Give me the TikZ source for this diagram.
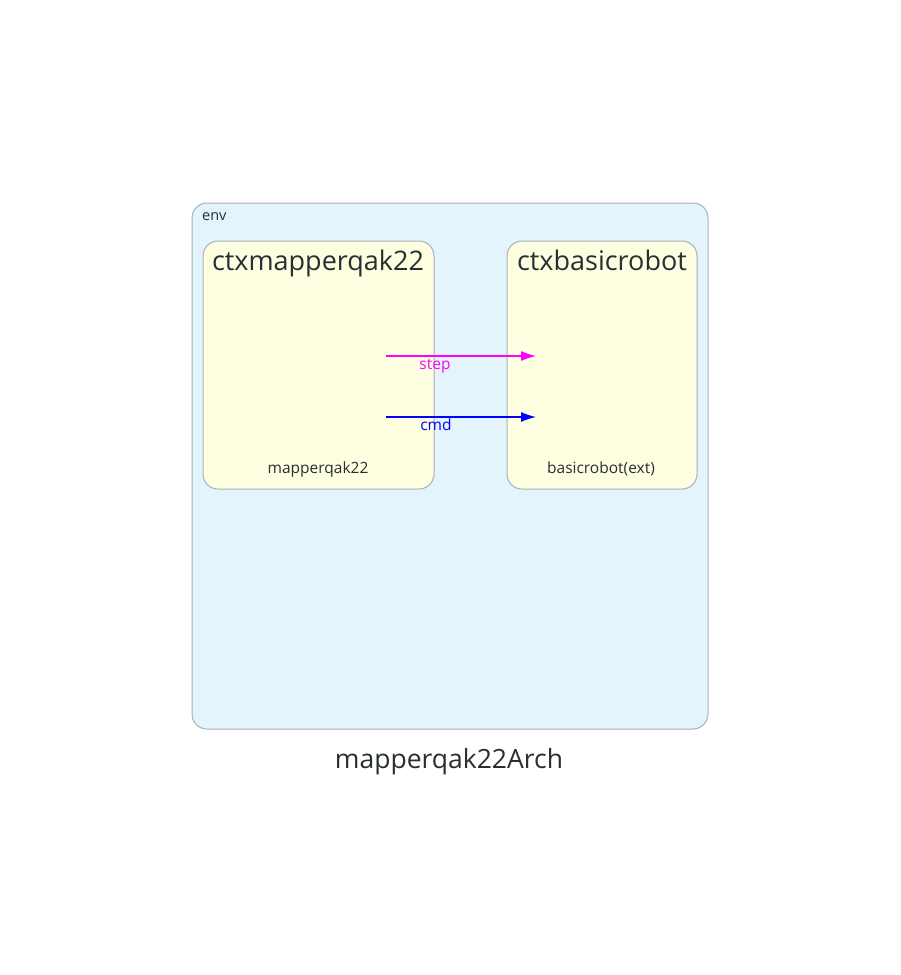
\documentclass[tikz,border=0pt]{standalone}
\usepackage{fontspec}
\setmainfont{Open Sans}
\usetikzlibrary{arrows.meta}
\definecolor{envblue}{RGB}{227, 244, 252}
\definecolor{ctxyellow}{RGB}{254, 254, 224}
\definecolor{framegray}{RGB}{168, 176, 184}
\definecolor{textdark}{RGB}{40, 46, 50}
\definecolor{stepmagenta}{RGB}{255, 0, 255}
\definecolor{cmdblue}{RGB}{0, 0, 255}
\begin{document}
\begin{tikzpicture}[x=1pt, y=-1pt,
    ctxbox/.style={draw=framegray, fill=ctxyellow, rounded corners=15pt, line width=1pt},
    msg/.style={-{Latex[length=15pt, width=10pt]}, line width=1.3pt},
    lbl/.style={anchor=base, inner sep=0pt, text=textdark}]
                    \useasboundingbox (0,0) rectangle (900,975);
                    \draw[draw=framegray, fill=envblue, rounded corners=15pt, line width=1pt] (192,203) rectangle (708,729);
                    \node[lbl, anchor=base west, font=\fontsize{14.5}{16}\selectfont] (envlabel) at (202,220) {env};
                    \draw[ctxbox] (203,241) rectangle (434,489);
                    \draw[ctxbox] (507,241) rectangle (697,489);
                    \node[lbl, font=\fontsize{27}{30}\selectfont] (ctxmapper) at (318,270) {ctxmapperqak22};
                    \node[lbl, font=\fontsize{27}{30}\selectfont] (ctxrobot) at (602,270) {ctxbasicrobot};
                    \node[lbl, font=\fontsize{15.5}{18}\selectfont] (mapper) at (318,473) {mapperqak22};
                    \node[lbl, font=\fontsize{15.5}{18}\selectfont] (robot) at (601,473) {basicrobot(ext)};
                    \coordinate (stepfrom) at (386,356);
                    \coordinate (stepto) at (536,356);
                    \coordinate (cmdfrom) at (386,417);
                    \coordinate (cmdto) at (536,417);
                    \draw[msg, stepmagenta] (stepfrom) -- (stepto);
                    \draw[msg, cmdblue] (cmdfrom) -- (cmdto);
                    \node[lbl, text=stepmagenta, font=\fontsize{15.5}{18}\selectfont] (steplabel) at (435,369) {step};
                    \node[lbl, text=cmdblue, font=\fontsize{15.5}{18}\selectfont] (cmdlabel) at (436,430) {cmd};
                    \node[lbl, font=\fontsize{26.5}{30}\selectfont] (archtitle) at (449,768) {mapperqak22Arch};
                \end{tikzpicture}
\end{document}
